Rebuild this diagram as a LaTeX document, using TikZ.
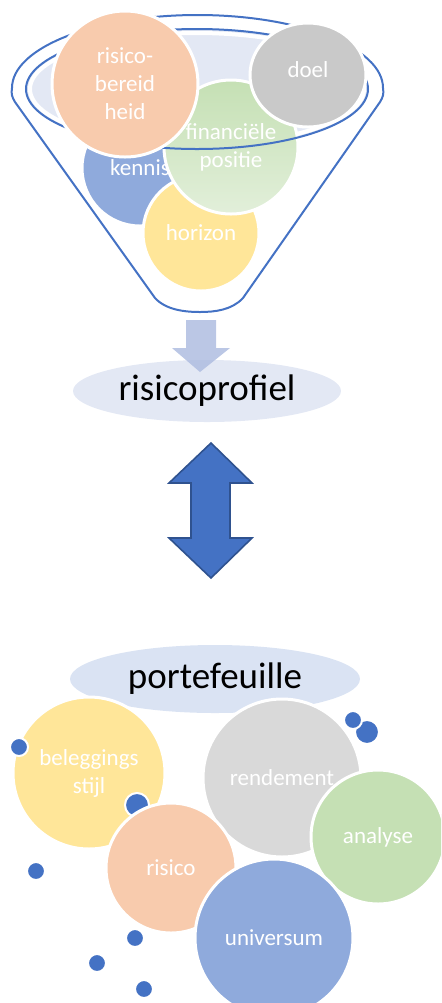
\documentclass[tikz,border=0pt]{standalone}
\usepackage{fontspec}
\setmainfont{Carlito}
\usetikzlibrary{shapes.geometric}
\begin{document}
\begin{tikzpicture}[x=0.5pt, y=-0.5pt]

  % Define Colors
  \definecolor{peach}{HTML}{F8CBAD}
  \definecolor{stone}{HTML}{C9C9C9}
  \definecolor{silver}{HTML}{D9D9D9}
  \definecolor{steel}{HTML}{8FAADC}
  \definecolor{sand}{HTML}{FFE699}
  \definecolor{sage}{HTML}{C5E0B4}
  \definecolor{mint}{HTML}{E2EFDA}
  \definecolor{ink}{HTML}{4472C4}
  \definecolor{navy}{HTML}{2F528F}
  \definecolor{mist}{HTML}{E3E8F4}
  \definecolor{haze}{HTML}{DAE3F3}
  \definecolor{pale}{HTML}{AFBDE1}

  % Node styles
  \tikzstyle{bubble}=[circle, draw=white, line width=1.5pt, inner sep=0pt, text=white, align=center, font=\fontsize{11.5}{14}\selectfont]
  \tikzstyle{blob}=[ellipse, draw=white, line width=1.5pt, inner sep=0pt, text=white, font=\fontsize{11.5}{14}\selectfont]
  \tikzstyle{ctitle}=[ellipse, inner sep=0pt, font=\fontsize{18.5}{22}\selectfont]
  \tikzstyle{dot}=[circle, draw=white, line width=1pt, fill=ink, inner sep=0pt]
  \tikzstyle{rim}=[draw=ink, line width=1pt]

  \path[use as bounding box, clip] (0,0) rectangle (441,1003);

  % Funnel
  \draw[rim] (12,88) arc[start angle=180, end angle=0, x radius=92.75pt, y radius=36.5pt]
    .. controls (384,94) and (383,97) .. (380,102) -- (243,298)
    .. controls (232,310) and (215,312) .. (200,312)
    .. controls (185,312) and (166,310) .. (155,298) -- (15,102)
    .. controls (12,97) and (11,94) .. (12,88);
  \fill[mist] (197,89) ellipse[x radius=85.5pt, y radius=30pt];
  \draw[white, line width=2pt] (197,89) ellipse[x radius=83.5pt, y radius=28pt];

  % Nodes
  \node[bubble, fill=steel, minimum size=58pt] (kennis) at (140,168) {kennis};
  \node[bubble, fill=sand, minimum size=58pt] (horizon) at (201,233) {horizon};
  \node[bubble, top color=sage, bottom color=mint, minimum size=67pt] (positie) at (231,147) {financiële\\positie};
  \draw[rim] (197,89) ellipse[x radius=85.5pt, y radius=30pt];
  \node[bubble, fill=peach, minimum size=73pt] (bereid) at (125,84) {risico-\\bereid\\heid};
  \node[blob, fill=stone, minimum width=58pt, minimum height=52pt] (doel) at (308,75) {\raisebox{5.5pt}{doel}};

  % Profiel
  \node[ctitle, fill=mist, minimum width=134pt, minimum height=31pt] (profiel) at (207,391) {risicoprofiel};
  \fill[pale, opacity=0.85] (186,320) -- (216,320) -- (216,348) -- (230,348) -- (200,372)
    -- (172,348) -- (186,348) -- cycle;

  % Double arrow
  \draw[fill=ink, draw=navy, line width=0.8pt] (211,443) -- (252,483) -- (230,483) -- (230,538)
    -- (252,538) -- (211,578) -- (169,538) -- (191,538) -- (191,483) -- (169,483) -- cycle;

  % Portefeuille
  \node[ctitle, fill=haze, minimum width=145pt, minimum height=34pt] (porte) at (215,679) {portefeuille};
  \node[bubble, fill=sand, minimum size=76pt] (stijl) at (89,773) {beleggings\\stijl};
  \node[bubble, fill=silver, minimum size=79pt] (rendement) at (282,778) {rendement};
  \node[dot, minimum size=12pt] (d_2) at (137,805) {};
  \node[bubble, fill=peach, minimum size=65pt] (risico) at (171,868) {risico};
  \node[bubble, fill=sage, minimum size=67pt] (analyse) at (378,837) {analyse};
  \node[bubble, fill=steel, minimum size=79pt] (universum) at (274,938) {universum};

  % Dots
  \node[dot, minimum size=9pt] (d_1) at (19,747) {};
  \node[dot, minimum size=12pt] (d_4) at (367,732) {};
  \node[dot, minimum size=9pt] (d_3) at (353,720) {};
  \node[dot, minimum size=9pt] (d_5) at (36,871) {};
  \node[dot, minimum size=9pt] (d_6) at (135,938) {};
  \node[dot, minimum size=9pt] (d_7) at (97,963) {};
  \node[dot, minimum size=9pt] (d_8) at (144,989) {};

\end{tikzpicture}
\end{document}
